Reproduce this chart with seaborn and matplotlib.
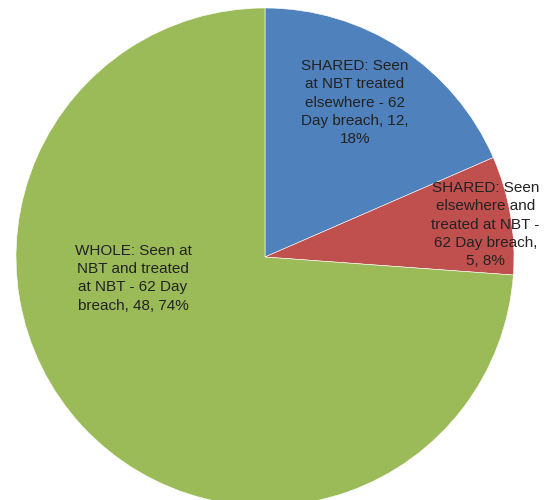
import matplotlib
matplotlib.use("Agg")
import matplotlib.pyplot as plt
import seaborn as sns

categories = [
    "SHARED: Seen at NBT treated elsewhere - 62 Day breach",
    "SHARED: Seen elsewhere and treated at NBT - 62 Day breach",
    "WHOLE: Seen at NBT and treated at NBT - 62 Day breach",
]
values = [12, 5, 48]
pct_labels = ["18%", "8%", "74%"]
colors = ["#4F81BD", "#C0504D", "#9BBB59"]

# data labels as wrapped in the original chart
label_texts = [
    "SHARED: Seen\nat NBT treated\nelsewhere - 62\nDay breach, {v},\n{p}",
    "SHARED: Seen\nelsewhere and\ntreated at NBT -\n62 Day breach,\n{v}, {p}",
    "WHOLE: Seen at\nNBT and treated\nat NBT - 62 Day\nbreach, {v}, {p}",
]

sns.set_theme(style="white")
plt.rcParams["font.family"] = ["Liberation Sans", "DejaVu Sans"]

fig = plt.figure(figsize=(5.44, 5.0), dpi=100)
# pie centre ~ (265, 257) px, radius ~ 249 px; bottom is cut off by the figure edge
ax = fig.add_axes([16 / 544, (500 - 506) / 500, 498 / 544, 498 / 500])

ax.pie(values, colors=colors, startangle=90, counterclock=False,
       wedgeprops=dict(edgecolor="white", linewidth=0.4))
ax.set_xlim(-1, 1)
ax.set_ylim(-1, 1)
ax.axis("off")

# label placement in data units relative to the pie centre
label_pos = [(0.36, 0.62), (0.885, 0.13), (-0.53, -0.085)]
for txt, v, p, (x, y) in zip(label_texts, values, pct_labels, label_pos):
    ax.text(x, y, txt.format(v=v, p=p), ha="center", va="center",
            fontsize=11, color="#222222", linespacing=1.4)

fig.savefig("out.png", dpi=100)
